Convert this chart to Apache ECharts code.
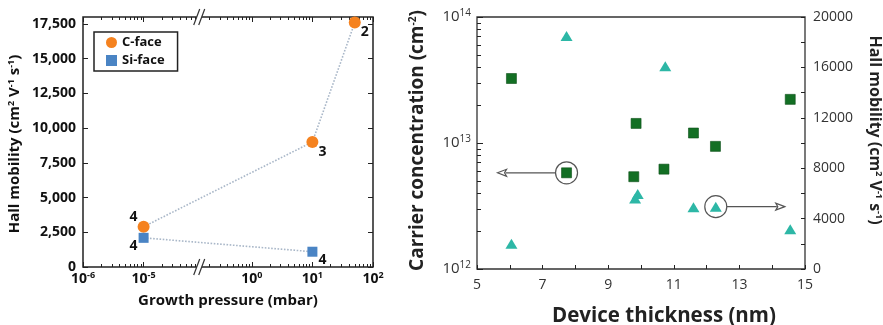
<!DOCTYPE html>
<html><head><meta charset="utf-8">
<script src="https://cdn.jsdelivr.net/npm/echarts@6/dist/echarts.min.js"></script>
<style>html,body{margin:0;padding:0;background:#fff}#c{width:883px;height:325px}</style>
</head><body><div id="c"></div>
<script>
// ---- Left panel data ----
const pressureC = [1e-5, 10, 50];
const mobilityC = [2900, 9000, 17600];
const layersC = ['4', '3', '2'];
const pressureSi = [1e-5, 10];
const mobilitySi = [2100, 1100];
const layersSi = ['4', '4'];
const pressureTicks = [1e-6, 1e-5, 1, 10, 100];
const mobilityTicksLeft = [0, 2500, 5000, 7500, 10000, 12500, 15000, 17500];
// ---- Right panel data ----
const thicknessConc = [6.05, 7.73, 9.78, 9.85, 10.7, 11.6, 12.27, 14.55];
const carrierConc = [3.25e13, 5.8e12, 5.4e12, 1.43e13, 6.2e12, 1.2e13, 9.4e12, 2.22e13];
const thicknessMob = [6.05, 7.73, 9.82, 9.9, 10.74, 11.6, 12.28, 14.55];
const hallMobility = [2000, 18500, 5600, 5950, 16100, 4900, 4950, 3150];
const thicknessTicks = [5, 7, 9, 11, 13, 15];
const concTicks = [1e12, 1e13, 1e14];
const mobilityTicksRight = [0, 4000, 8000, 12000, 16000, 20000];
const circledConcIndex = 1;
const circledMobIndex = 6;

// ---- styling / helpers ----
const FONT = '"Open Sans", "DejaVu Sans", sans-serif';
const ORANGE = '#f5821f', BLUE = '#4a84c4', GREEN = '#136f24', TEAL = '#2db7a6';
const DOT = '#a9b7c8';
const logMinor = (d0, d1, skip) => {
  const out = [];
  for (let d = d0; d <= d1; d++) for (let k = 2; k <= 9; k++) {
    const v = k * Math.pow(10, d);
    if (!skip || !skip(v)) out.push(v);
  }
  return out;
};
const brkStart = Math.pow(10, -4.11), brkEnd = Math.pow(10, -0.8);
const pBreaks = [{start: brkStart, end: brkEnd, gap: '2%'}];
const breakArea = {show: false, expandOnClick: false, zigzagAmplitude: 0, itemStyle: {opacity: 0, borderWidth: 0}};
const pressureMinor = logMinor(-6, 1, v => v > brkStart && v < brkEnd);
const concMinor = logMinor(12, 13);
const supFmt = v => {
  const l = Math.log10(v), e = Math.round(l);
  if (Math.abs(l - e) > 1e-6) return '';
  return '{b|10}{s|' + e + '}';
};
const tickCol = '#222';

function pAxis(pos, withLabels, minor) {
  return {
    type: 'log', logBase: 10, gridIndex: 0, position: pos, min: 1e-6, max: 100,
    breaks: pBreaks, breakArea: breakArea,
    axisLine: {show: false}, splitLine: {show: false},
    axisTick: {show: true, inside: true, length: minor ? 3 : 5, lineStyle: {color: tickCol, width: 1},
      customValues: minor ? pressureMinor : pressureTicks},
    axisLabel: withLabels ? {
      show: true, customValues: pressureTicks, formatter: supFmt, margin: 4,
      rich: {b: {fontFamily: FONT, fontWeight: 'bold', fontSize: 14, color: '#111'},
             s: {fontFamily: FONT, fontWeight: 'bold', fontSize: 9, color: '#111', padding: [0, 0, 7, 0]}}
    } : {show: false},
    name: withLabels ? 'Growth pressure (mbar)' : '',
    nameLocation: 'middle', nameGap: 26,
    nameTextStyle: {fontFamily: FONT, fontWeight: 'bold', fontSize: 15, color: '#111'}
  };
}

const chart = echarts.init(document.getElementById('c'), null, {renderer: 'canvas'});
const option = {
  animation: false,
  backgroundColor: '#fff',
  grid: [
    {left: 83, top: 17, width: 290, height: 250, show: true, borderColor: '#222', borderWidth: 1.5, backgroundColor: 'transparent', outerBoundsMode: 'none', containLabel: false},
    {left: 477, top: 17, width: 328, height: 252, show: true, borderColor: '#333', borderWidth: 1.3, backgroundColor: 'transparent', outerBoundsMode: 'none', containLabel: false}
  ],
  legend: {
    orient: 'vertical', left: 94, top: 32, borderColor: '#222', borderWidth: 1.5, borderRadius: 0,
    padding: [4, 13, 4, 12], itemGap: 5, itemWidth: 11, itemHeight: 11,
    textStyle: {fontFamily: FONT, fontWeight: 'bold', fontSize: 13, color: '#111'},
    data: [{name: 'C-face', icon: 'circle'}, {name: 'Si-face', icon: 'rect'}]
  },
  xAxis: [
    pAxis('bottom', true, false),
    pAxis('bottom', false, true),
    pAxis('top', false, false),
    pAxis('top', false, true),
    {
      type: 'value', gridIndex: 1, position: 'bottom', min: 5, max: 15,
      axisLine: {show: false}, splitLine: {show: false},
      axisTick: {show: true, inside: true, length: 4, lineStyle: {color: tickCol},
        customValues: [5, 6, 7, 8, 9, 10, 11, 12, 13, 14, 15]},
      axisLabel: {customValues: thicknessTicks, margin: 9, fontFamily: FONT, fontSize: 14, color: '#333'},
      name: 'Device thickness (nm)', nameLocation: 'middle', nameGap: 37,
      nameTextStyle: {fontFamily: FONT, fontWeight: 'bold', fontSize: 20.5, color: '#222', padding: [0, 0, 0, 46]}
    }
  ],
  yAxis: [
    {
      type: 'value', gridIndex: 0, position: 'left', min: 0, max: 18000,
      axisLine: {show: false}, splitLine: {show: false},
      axisTick: {show: true, inside: true, length: 5, lineStyle: {color: tickCol}, customValues: mobilityTicksLeft},
      axisLabel: {customValues: mobilityTicksLeft, margin: 7, fontFamily: FONT, fontWeight: 'bold', fontSize: 14, color: '#111',
        formatter: v => v.toLocaleString('en-US')},
      name: 'Hall mobility (cm{s|2} V{s|-1} s{s|-1})', nameLocation: 'middle', nameGap: 60, nameRotate: 90,
      nameTextStyle: {fontFamily: FONT, fontWeight: 'bold', fontSize: 15, color: '#111', padding: [0, 4, 0, 0],
        rich: {s: {fontFamily: FONT, fontWeight: 'bold', fontSize: 9, color: '#111', padding: [0, 0, 7, 0]}}}
    },
    {
      type: 'value', gridIndex: 0, position: 'right', min: 0, max: 18000,
      axisLine: {show: false}, splitLine: {show: false}, axisLabel: {show: false},
      axisTick: {show: true, inside: true, length: 5, lineStyle: {color: tickCol}, customValues: mobilityTicksLeft}
    },
    {
      type: 'log', logBase: 10, gridIndex: 1, position: 'left', min: 1e12, max: 1e14,
      axisLine: {show: false}, splitLine: {show: false},
      axisTick: {show: true, inside: true, length: 6, lineStyle: {color: tickCol}, customValues: concTicks},
      axisLabel: {customValues: concTicks, formatter: supFmt, margin: 6,
        rich: {b: {fontFamily: FONT, fontSize: 15, color: '#333'},
               s: {fontFamily: FONT, fontSize: 10, color: '#333', padding: [0, 0, 8, 0]}}},
      name: 'Carrier concentration (cm{s|-2})', nameLocation: 'middle', nameGap: 50, nameRotate: 90,
      nameTextStyle: {fontFamily: FONT, fontWeight: 'bold', fontSize: 19, color: '#222', padding: [0, 0, 0, 5],
        rich: {s: {fontFamily: FONT, fontWeight: 'bold', fontSize: 10, color: '#222', padding: [0, 0, 9, 0]}}}
    },
    {
      type: 'log', logBase: 10, gridIndex: 1, position: 'left', min: 1e12, max: 1e14,
      axisLine: {show: false}, splitLine: {show: false}, axisLabel: {show: false},
      axisTick: {show: true, inside: true, length: 4, lineStyle: {color: tickCol}, customValues: concMinor}
    },
    {
      type: 'value', gridIndex: 1, position: 'right', min: 0, max: 20000,
      axisLine: {show: false}, splitLine: {show: false},
      axisTick: {show: true, inside: true, length: 4, lineStyle: {color: tickCol},
        customValues: [0, 2000, 4000, 6000, 8000, 10000, 12000, 14000, 16000, 18000, 20000]},
      axisLabel: {customValues: mobilityTicksRight, margin: 8, fontFamily: FONT, fontSize: 14, color: '#333',
        formatter: v => String(v)},
      name: 'Hall mobility (cm{s|2} V{s|-1} s{s|-1})', nameLocation: 'middle', nameGap: 61, nameRotate: -90,
      nameTextStyle: {fontFamily: FONT, fontWeight: 'bold', fontSize: 16, color: '#222', padding: [0, 26, 0, 0],
        rich: {s: {fontFamily: FONT, fontWeight: 'bold', fontSize: 9, color: '#222', padding: [0, 0, 8, 0]}}}
    }
  ],
  series: [
    {
      name: 'C-face', type: 'line', xAxisIndex: 0, yAxisIndex: 0, symbol: 'circle', symbolSize: 12,
      itemStyle: {color: ORANGE, opacity: 1}, lineStyle: {color: DOT, width: 1.6, type: 'dotted'}, z: 5,
      data: pressureC.map((p, i) => ({value: [p, mobilityC[i]],
        label: {show: true, formatter: layersC[i], position: 'inside', offset: [[-10, -10], [10, 10], [10, 9]][i],
          fontFamily: FONT, fontWeight: 'bold', fontSize: 14, color: '#111'}}))
    },
    {
      name: 'Si-face', type: 'line', xAxisIndex: 0, yAxisIndex: 0, symbol: 'rect', symbolSize: 10,
      itemStyle: {color: BLUE, opacity: 1}, lineStyle: {color: DOT, width: 1.6, type: 'dotted'}, z: 5,
      data: pressureSi.map((p, i) => ({value: [p, mobilitySi[i]],
        label: {show: true, formatter: layersSi[i], position: 'inside', offset: [[-10, 8], [10, 8]][i],
          fontFamily: FONT, fontWeight: 'bold', fontSize: 14, color: '#111'}}))
    },
    {
      name: 'Carrier', type: 'scatter', xAxisIndex: 4, yAxisIndex: 2, symbol: 'rect', symbolSize: 10,
      itemStyle: {color: GREEN, opacity: 1, borderColor: '#0b4f18', borderWidth: 0.6},
      data: thicknessConc.map((t, i) => [t, carrierConc[i]])
    },
    {
      name: 'Mobility', type: 'scatter', xAxisIndex: 4, yAxisIndex: 4, symbol: 'triangle', symbolSize: [12, 10],
      itemStyle: {color: TEAL, opacity: 1},
      data: thicknessMob.map((t, i) => [t, hallMobility[i]])
    }
  ]
};
chart.setOption(option);

// ---- annotations: break marks, circles and arrows ----
const g = [];
const xa = chart.convertToPixel({seriesIndex: 0}, [1e-5, 0])[0];
const xb = chart.convertToPixel({seriesIndex: 0}, [1, 0])[0];
const xm = (xa + xb) / 2 + 2;
[17, 267].forEach(y => {
  g.push({type: 'polygon', shape: {points: [[xm - 6, y + 8], [xm, y - 8], [xm + 5, y - 8], [xm - 1, y + 8]]},
    style: {fill: '#fff'}, z: 100});
  g.push({type: 'line', shape: {x1: xm - 6, y1: y + 8, x2: xm, y2: y - 8}, style: {stroke: '#333', lineWidth: 1.2}, z: 101});
  g.push({type: 'line', shape: {x1: xm - 1, y1: y + 8, x2: xm + 5, y2: y - 8}, style: {stroke: '#333', lineWidth: 1.2}, z: 101});
});
const r = 11, arrowLen = 58;
function circleArrow(pt, dir) {
  const [cx, cy] = pt;
  g.push({type: 'circle', shape: {cx, cy, r}, style: {fill: 'none', stroke: '#555', lineWidth: 1.2}, z: 100});
  const x0 = cx + dir * r, tip = x0 + dir * arrowLen;
  g.push({type: 'line', shape: {x1: x0, y1: cy, x2: tip - dir * 8, y2: cy}, style: {stroke: '#555', lineWidth: 1.3}, z: 100});
  g.push({type: 'polygon', shape: {points: [[tip, cy], [tip - dir * 9, cy - 3.5], [tip - dir * 7, cy], [tip - dir * 9, cy + 3.5]]},
    style: {fill: '#fff', stroke: '#555', lineWidth: 1.2}, z: 100});
}
circleArrow(chart.convertToPixel({seriesIndex: 2}, [thicknessConc[circledConcIndex], carrierConc[circledConcIndex]]), -1);
circleArrow(chart.convertToPixel({seriesIndex: 3}, [thicknessMob[circledMobIndex], hallMobility[circledMobIndex]]), 1);
chart.setOption({graphic: g});
</script>
</body></html>
